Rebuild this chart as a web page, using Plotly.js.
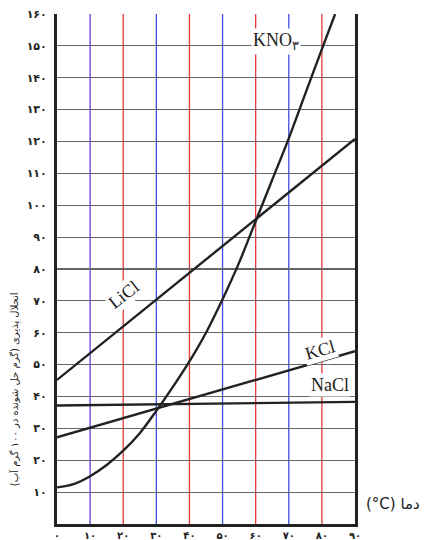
<!DOCTYPE html>
<html>
<head>
<meta charset="utf-8">
<script src="https://cdn.plot.ly/plotly-3.0.1.min.js"></script>
<style>html,body{margin:0;padding:0;background:#fff;}#chart{width:432px;height:540px;}</style>
</head>
<body>
<div id="chart"></div>
<script>
// Temperatures (°C)
const temps = [0, 10, 20, 30, 40, 50, 60, 70, 80, 90];
// Solubility (g solute per 100 g water)
const nacl = [37.2, 37.3, 37.4, 37.5, 37.6, 37.7, 37.8, 37.9, 38.1, 38.3];
const kcl  = [27.2, 30.2, 33.2, 36.2, 39.2, 42.2, 45.2, 48.2, 51.2, 54.2];
const licl = [45.2, 53.6, 62.0, 70.4, 78.8, 87.2, 95.6, 104.0, 112.4, 120.8];
const kno3Temps = [0, 5, 10, 15, 20, 25, 30, 35, 40, 45, 50, 55, 60, 65, 70, 75, 80, 84];
const kno3 = [11.5, 12.5, 15, 18.5, 23, 28.5, 35.5, 43, 51, 60, 70.5, 82, 95, 108, 121, 135, 149, 160];

// Tick values and Persian tick labels
const xTicks = [0, 10, 20, 30, 40, 50, 60, 70, 80, 90];
const xTickText = ['۰', '۱۰', '۲۰', '۳۰', '۴۰', '۵۰', '۶۰', '۷۰', '۸۰', '۹۰'];
const yTicks = [10, 20, 30, 40, 50, 60, 70, 80, 90, 100, 110, 120, 130, 140, 150, 160];
const yTickText = ['۱۰', '۲۰', '۳۰', '۴۰', '۵۰', '۶۰', '۷۰', '۸۰', '۹۰', '۱۰۰', '۱۱۰', '۱۲۰', '۱۳۰', '۱۴۰', '۱۵۰', '۱۶۰'];
const vGridTicks = [10, 20, 30, 40, 50, 60, 70, 80];
const vGridColors = ['#6a3fd6', '#e23a3a', '#3f4fe0', '#e23a3a', '#3f4fe0', '#e23a3a', '#3f4fe0', '#e23a3a'];

const lineStyle = {color: '#222', width: 2.4};
const traces = [
  {x: temps, y: nacl, mode: 'lines', line: lineStyle, name: 'NaCl'},
  {x: temps, y: kcl, mode: 'lines', line: lineStyle, name: 'KCl'},
  {x: temps, y: licl, mode: 'lines', line: lineStyle, name: 'LiCl'},
  {x: kno3Temps, y: kno3, mode: 'lines', line: Object.assign({shape: 'spline', smoothing: 1}, lineStyle), name: 'KNO3'}
];

const shapes = vGridTicks.map((t, i) => ({
  type: 'line', xref: 'x', yref: 'paper', x0: t, x1: t, y0: 0, y1: 1,
  line: {color: vGridColors[i], width: 1.3}, layer: 'below'
}));

const serif = 'Liberation Serif, Times New Roman, serif';
const annotations = [
  {x: 66, y: 151.5, xref: 'x', yref: 'y', text: 'KNO<sub>۳</sub>', showarrow: false,
   font: {family: serif, size: 18, color: '#222'}, bgcolor: '#fff'},
  {x: 20, y: 72, xref: 'x', yref: 'y', text: 'LiCl', showarrow: false, textangle: -38,
   font: {family: serif, size: 18, color: '#222'}, bgcolor: '#fff'},
  {x: 79.5, y: 54.5, xref: 'x', yref: 'y', text: 'KCl', showarrow: false, textangle: -16,
   font: {family: serif, size: 18, color: '#222'}, bgcolor: '#fff'},
  {x: 82.5, y: 43.6, xref: 'x', yref: 'y', text: 'NaCl', showarrow: false,
   font: {family: serif, size: 18, color: '#222'}, bgcolor: '#fff'},
  {x: 1.03, y: 0.04, xref: 'paper', yref: 'paper', xanchor: 'left', yanchor: 'middle',
   text: '(°C) دما', showarrow: false, font: {family: 'DejaVu Sans', size: 15, color: '#222'}},
  {x: -0.14, y: 0.265, xref: 'paper', yref: 'paper', xanchor: 'center', yanchor: 'middle',
   textangle: -90, text: 'انحلال پذیری (گرم حل شونده در ۱۰۰ گرم آب)\u200F', showarrow: false,
   font: {family: 'DejaVu Sans', size: 10, color: '#222'}}
];

const layout = {
  width: 432, height: 540,
  margin: {l: 57, r: 77, t: 14, b: 16},
  paper_bgcolor: '#fff', plot_bgcolor: '#fff',
  showlegend: false,
  xaxis: {
    range: [0, 90], tickvals: xTicks, ticktext: xTickText, showgrid: false,
    zeroline: false, showline: true, linecolor: '#222', linewidth: 3,
    ticks: '', ticklabelstandoff: 0,
    tickfont: {family: 'DejaVu Sans', size: 10, color: '#222', weight: 'bold'}
  },
  yaxis: {
    range: [0, 160], tickvals: yTicks, ticktext: yTickText, showgrid: true,
    gridcolor: '#666', gridwidth: 1.2, zeroline: false,
    showline: true, mirror: true, linecolor: '#222', linewidth: 3,
    ticks: '', ticklabelstandoff: 5,
    tickfont: {family: 'DejaVu Sans', size: 11, color: '#222', weight: 'bold'}
  },
  shapes: shapes,
  annotations: annotations
};

Plotly.newPlot('chart', traces, layout, {displayModeBar: false, staticPlot: true});
</script>
</body>
</html>
